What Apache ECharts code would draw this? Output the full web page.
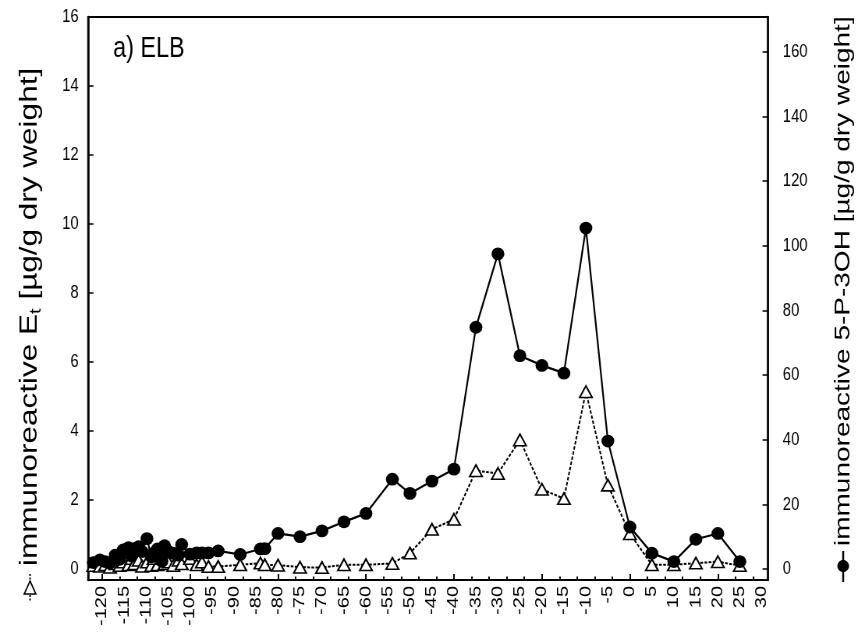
<!DOCTYPE html>
<html>
<head>
<meta charset="utf-8">
<script src="https://cdn.jsdelivr.net/npm/echarts@6/dist/echarts.min.js"></script>
<style>
  html, body { margin: 0; padding: 0; overflow: hidden; background: #fff; width: 860px; height: 637px; }
  #wrap { width: 860px; height: 637px; overflow: hidden; position: relative; }
  /* drawn wide, then condensed horizontally */
  #chart { width: 1103px; height: 637px; transform: scaleX(0.78); transform-origin: 0 0; }
</style>
</head>
<body>
<div id="wrap"><div id="chart"></div></div>
<script>
// depth (x) shared by both profiles
const depth = [-122.0, -120.5, -119.3, -118.2, -117.0, -116.0, -115.2, -114.0, -113.3, -112.7,
  -111.7, -110.9, -109.8, -108.8, -108.3, -107.4, -106.4, -105.8, -104.9, -103.8,
  -102.6, -101.9, -100.0, -98.5, -97.3, -95.8, -93.6, -88.6, -84.0, -83.0,
  -80, -75, -70, -65, -60, -54, -50, -45, -40, -35,
  -30, -25, -20, -15, -10, -5, 0, 5, 10, 15, 20, 25];

// immunoreactive 5-P-3OH, right axis
const p3oh = [2.0, 2.8, 2.3, 1.9, 4.3, 3.0, 5.9, 6.6, 4.0, 6.3,
  6.9, 5.4, 9.4, 3.8, 4.9, 6.2, 2.4, 7.2, 5.4, 4.9,
  4.3, 7.6, 4.6, 5.0, 5.0, 5.0, 5.6, 4.5, 6.2, 6.3,
  11.0, 10.0, 11.8, 14.6, 17.2, 27.8, 23.4, 27.2, 30.9, 74.8,
  97.5, 66.0, 63.0, 60.6, 105.5, 39.6, 13.0, 4.9, 2.3, 9.2, 11.0, 2.3];

// immunoreactive Et, left axis
const et = [0.10, 0.08, 0.12, 0.05, 0.15, 0.10, 0.20, 0.12, 0.30, 0.15,
  0.25, 0.08, 0.20, 0.10, 0.30, 0.12, 0.30, 0.15, 0.20, 0.10,
  0.25, 0.15, 0.30, 0.12, 0.20, 0.07, 0.07, 0.12, 0.17, 0.12,
  0.11, 0.05, 0.04, 0.12, 0.12, 0.16, 0.46, 1.15, 1.44, 2.85,
  2.77, 3.74, 2.31, 2.04, 5.14, 2.43, 1.02, 0.12, 0.12, 0.17, 0.21, 0.10];

// tick labels
const xLabels = [-120, -115, -110, -105, -100, -95, -90, -85, -80, -75, -70, -65, -60,
  -55, -50, -45, -40, -35, -30, -25, -20, -15, -10, -5, 0, 5, 10, 15, 20, 25, 30];
const xMajorTicks = [-120, -100, -80, -60, -40, -20, 0, 20];
const xMinorTicks = [-120, -116, -112, -108, -104, -100, -96, -92, -88, -84, -80, -76, -72,
  -68, -64, -60, -56, -52, -48, -44, -40, -36, -32, -28, -24, -20, -16, -12, -8, -4,
  0, 4, 8, 12, 16, 20, 24, 28];
const leftLabels = [0, 2, 4, 6, 8, 10, 12, 14, 16];
const rightLabels = [0, 20, 40, 60, 80, 100, 120, 140, 160];

const FONT = "'Liberation Sans', Arial, Helvetica, sans-serif";
const chart = echarts.init(document.getElementById('chart'));

const xBase = {
  type: 'value', gridIndex: 0, position: 'bottom', offset: 0,
  min: -123.2, max: 31.4, splitLine: { show: false }
};

chart.setOption({
  animation: false,
  backgroundColor: '#fff',
  grid: {
    left: 112.8, right: 118.4, top: 17, bottom: 57,
    show: true, borderColor: '#000', borderWidth: 2, backgroundColor: 'transparent'
  },
  xAxis: [
    Object.assign({}, xBase, {
      axisLine: { show: true, onZero: false, lineStyle: { color: '#000', width: 2 } },
      axisTick: { show: true, inside: true, length: 6, customValues: xMajorTicks, lineStyle: { color: '#000', width: 2 } },
      axisLabel: { show: true, rotate: 90, margin: 6, fontSize: 20, color: '#000', fontFamily: FONT, customValues: xLabels }
    }),
    Object.assign({}, xBase, {
      axisLine: { show: false, onZero: false },
      axisTick: { show: true, inside: true, length: 3.5, customValues: xMinorTicks, lineStyle: { color: '#000', width: 2 } },
      axisLabel: { show: false }
    })
  ],
  yAxis: [
    {
      type: 'value', position: 'left', min: -0.32, max: 16,
      splitLine: { show: false },
      axisLine: { show: true, onZero: false, lineStyle: { color: '#000', width: 2.5 } },
      axisTick: { show: true, inside: true, length: 7, customValues: leftLabels, lineStyle: { color: '#000', width: 1.5 } },
      axisLabel: { margin: 12, fontSize: 19, color: '#000', fontFamily: FONT, customValues: leftLabels }
    },
    {
      type: 'value', position: 'right', min: -3.4, max: 170.8,
      splitLine: { show: false },
      axisLine: { show: true, onZero: false, lineStyle: { color: '#000', width: 2.5 } },
      axisTick: { show: true, inside: true, length: 7, customValues: rightLabels, lineStyle: { color: '#000', width: 1.5 } },
      axisLabel: { margin: 19, fontSize: 19, color: '#000', fontFamily: FONT, customValues: rightLabels }
    }
  ],
  series: [
    {
      name: 'Et', type: 'line', xAxisIndex: 0, yAxisIndex: 0, z: 2,
      data: depth.map((d, i) => [d, et[i]]),
      symbol: 'triangle', symbolSize: [16, 11.5],
      itemStyle: { color: '#fff', borderColor: '#000', borderWidth: 1.8 },
      lineStyle: { color: '#000', width: 2, type: [3.5, 1.8] },
      emphasis: { disabled: true }
    },
    {
      name: '5-P-3OH', type: 'line', xAxisIndex: 0, yAxisIndex: 1, z: 3,
      data: depth.map((d, i) => [d, p3oh[i]]),
      symbol: 'circle', symbolSize: [16.5, 12.8],
      itemStyle: { color: '#000' },
      lineStyle: { color: '#000', width: 2.2 },
      emphasis: { disabled: true }
    }
  ],
  graphic: [
    // panel label
    {
      type: 'text', x: 145, y: 49,
      style: { text: 'a) ELB', font: '30px ' + FONT, fill: '#000', textAlign: 'left', textVerticalAlign: 'middle' }
    },
    // left axis title with its key
    {
      type: 'text', x: 38.5, y: 566, rotation: Math.PI / 2,
      style: {
        text: '{a|immunoreactive E}{s|t}{a| [µg/g dry weight]}',
        textAlign: 'left', textVerticalAlign: 'middle', fill: '#000',
        rich: {
          a: { fontSize: 31.5, fontFamily: FONT, lineHeight: 36 },
          s: { fontSize: 20, fontFamily: FONT, lineHeight: 15, verticalAlign: 'bottom' }
        }
      }
    },
    {
      type: 'line', shape: { x1: 38.5, y1: 574, x2: 38.5, y2: 601 },
      style: { stroke: '#000', lineWidth: 2, lineDash: [2, 1.5] }
    },
    {
      type: 'polygon', shape: { points: [[38.5, 581], [46, 594], [31, 594]] },
      style: { fill: '#fff', stroke: '#000', lineWidth: 1.6 }
    },
    // right axis title with its key
    {
      type: 'text', x: 1081, y: 546, rotation: Math.PI / 2,
      style: {
        text: 'immunoreactive 5-P-3OH [µg/g dry weight]',
        font: '28px ' + FONT, fill: '#000', textAlign: 'left', textVerticalAlign: 'middle'
      }
    },
    {
      type: 'line', shape: { x1: 1081, y1: 551, x2: 1081, y2: 582 },
      style: { stroke: '#000', lineWidth: 2.5 }
    },
    {
      type: 'ellipse', shape: { cx: 1081, cy: 566, rx: 7.5, ry: 6 },
      style: { fill: '#000' }
    }
  ]
});
</script>
</body>
</html>
